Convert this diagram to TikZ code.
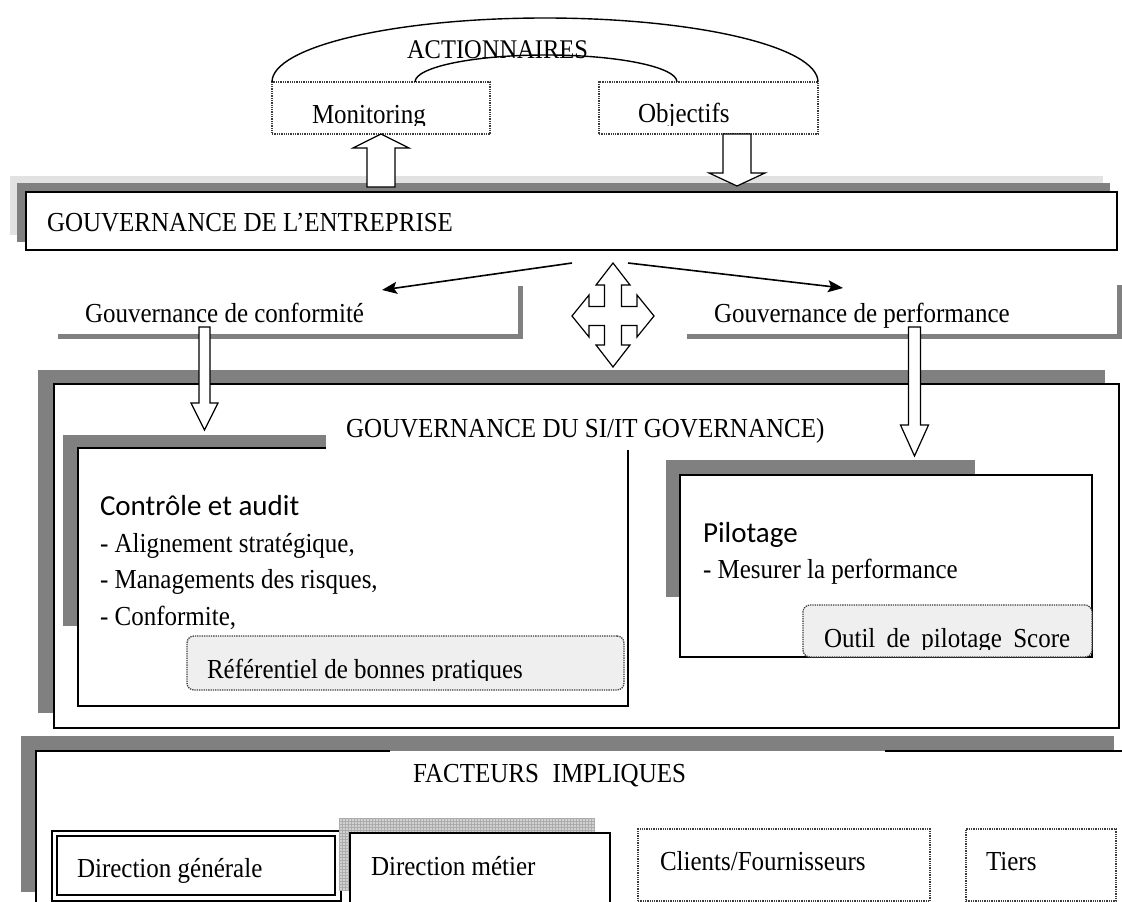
\documentclass[tikz,border=0pt]{standalone}
\usepackage{fontspec}
\setmainfont{Liberation Serif}
\newfontfamily\headfont{Carlito}
\usetikzlibrary{arrows.meta,patterns}

\definecolor{shadowgray}{RGB}{128,128,128}
\definecolor{palegray}{RGB}{226,226,226}
\definecolor{notefill}{RGB}{239,239,239}
\definecolor{dotgray}{RGB}{60,60,60}

% serif labels are set slightly taller than their natural shape
\newcommand{\tall}[1]{\scalebox{1}[1.1]{#1}}

\begin{document}
\begin{tikzpicture}[x=1pt,y=-1pt,
  txt/.style={inner sep=0pt, outer sep=0pt, anchor=base west, font=\fontsize{25}{30}\selectfont},
  headtxt/.style={inner sep=0pt, outer sep=0pt, anchor=base west, font=\headfont\fontsize{29}{34}\selectfont},
  panel/.style={draw=black, line width=1.5pt, fill=white, anchor=north west, inner sep=0pt, outer sep=0pt},
  dotpanel/.style={draw=dotgray, densely dotted, line width=1.3pt, anchor=north west, inner sep=0pt, outer sep=0pt},
  notepanel/.style={dotpanel, fill=notefill, rounded corners=7pt},
  blockarrow/.style={draw=black, line width=1.2pt, fill=white, line join=miter},
  thinarrow/.style={line width=1.6pt, -{Stealth[length=15pt,width=12pt,inset=3pt]}},
  bracket/.style={draw=shadowgray, line width=5pt},
]
\useasboundingbox (0,0) rectangle (1122,902);

% ---------- shareholders ----------
\node[dotpanel, minimum width=218pt, minimum height=52pt] (mon) at (272,82) {};
\node[dotpanel, minimum width=219pt, minimum height=52pt] (obj) at (599,82) {};
\draw[line width=1.4pt] (mon.north west) arc[start angle=180, end angle=360, x radius=273, y radius=64];
\coordinate (innerL) at (415,82);
\draw[line width=1.4pt] (innerL) arc[start angle=180, end angle=360, x radius=131, y radius=27];
\node[txt, font=\fontsize{24.5}{28}\selectfont] (act) at (407,58) {\tall{ACTIONNAIRES}};
\begin{scope}
  \clip (272,82) rectangle (818,125);
  \node[txt] (monT) at (312,123) {\tall{Monitoring}};
  \node[txt] (objT) at (638,122) {\tall{Objectifs}};
\end{scope}

% ---------- corporate governance ----------
\fill[palegray] (10,176) rectangle (1103,235);
\fill[shadowgray] (17,183) rectangle (1110,242);
\node[panel, minimum width=1091pt, minimum height=58pt] (ent) at (26,192) {};
\node[txt] (entT) at (47,231) {\tall{GOUVERNANCE DE L’ENTREPRISE}};

% block arrows between shareholders and the corporate bar
\draw[blockarrow] (367,187) -- (367,148) -- (353,148) -- (381,134) -- (409,148) -- (395,148) -- (395,187) -- cycle;
\draw[blockarrow] (723,134) -- (723,173) -- (709,173) -- (737,186) -- (765,173) -- (751,173) -- (751,134) -- cycle;

% ---------- two kinds of governance ----------
\node[txt] (conf) at (85,322) {\tall{Gouvernance de conformité}};
\node[txt] (perf) at (714,322) {\tall{Gouvernance de performance}};
\draw[bracket] (58,336.5) -- (520,336.5) -- (520,286);
\draw[bracket] (687,336.5) -- (1119,336.5) -- (1119,285);

\coordinate (splitL) at (572,263);
\coordinate (splitR) at (628,263);
\coordinate (confTip) at (382,290);
\coordinate (perfTip) at (843,288);
\draw[thinarrow] (splitL) -- (confTip);
\draw[thinarrow] (splitR) -- (perfTip);

% four-way block arrow
\draw[blockarrow] (613,263) -- (630,285) -- (621.5,285) -- (621.5,306.5) -- (637,306.5) -- (637,295)
  -- (654,316) -- (637,337) -- (637,325.5) -- (621.5,325.5) -- (621.5,345) -- (630,345)
  -- (613,367) -- (596,345) -- (604.5,345) -- (604.5,325.5) -- (589,325.5) -- (589,337)
  -- (572,316) -- (589,295) -- (589,306.5) -- (604.5,306.5) -- (604.5,285) -- (596,285) -- cycle;

% ---------- IT governance ----------
\fill[shadowgray] (38,370) rectangle (1105,713);
\node[panel, minimum width=1065pt, minimum height=344pt] (si) at (54,384) {};

\fill[shadowgray] (63,435) rectangle (600,626);
\node[panel, minimum width=550pt, minimum height=258pt] (ctl) at (78,448) {};
\fill[white] (326,405) rectangle (845,449.6);
\node[txt] (siT) at (346,437) {\tall{GOUVERNANCE DU SI/IT GOVERNANCE)}};

\node[headtxt] (ctlT) at (100,515) {Contrôle et audit};
\node[txt] (ctl1) at (100,552) {\tall{- Alignement stratégique,}};
\node[txt] (ctl2) at (100,588) {\tall{- Managements des risques,}};
\node[txt] (ctl3) at (100,625) {\tall{- Conformite,}};
\node[notepanel, minimum width=437pt, minimum height=54pt] (ref) at (187,636) {};
\begin{scope}
  \clip (187,636) rectangle (624,680);
  \node[txt] (refT) at (207,678) {\tall{Référentiel de bonnes pratiques}};
\end{scope}

\fill[shadowgray] (666,460) rectangle (975,597);
\node[panel, minimum width=412pt, minimum height=182pt] (pil) at (680,475) {};
\node[headtxt] (pilT) at (703,542) {Pilotage};
\node[txt] (pil1) at (703,578) {\tall{- Mesurer la performance}};
\node[notepanel, minimum width=289pt, minimum height=52pt] (tool) at (803,605) {};
\begin{scope}
  \clip (803,605) rectangle (1092,649);
  \node[txt] (toolT) at (824,647) {\tall{Outil\hspace{0.45em}de\hspace{0.45em}pilotage\hspace{0.45em}Score}};
\end{scope}

% arrows from the two governance kinds into the IT governance blocks
\draw[blockarrow] (199,327) -- (199,403) -- (191,403) -- (204.5,430) -- (218,403) -- (210,403) -- (210,327) -- cycle;
\draw[blockarrow] (908.5,327) -- (908.5,425) -- (900.5,425) -- (914.5,456) -- (928.5,425) -- (920.5,425) -- (920.5,327) -- cycle;

% ---------- involved parties ----------
\fill[shadowgray] (21,736) rectangle (1114,892);
\fill[white] (36,751) rectangle (1130,910);
\draw[line width=1.5pt] (390,751) -- (36,751) -- (36,905);
\draw[line width=1.5pt] (885,751) -- (1125,751);
\node[txt] (fac) at (413,782) {\tall{FACTEURS\hspace{0.55em}IMPLIQUES}};

\node[panel, minimum width=289pt, minimum height=70pt] (dgOut) at (52,831) {};
\node[panel, minimum width=278pt, minimum height=59pt] (dg) at (57,836) {};
\node[txt] (dgT) at (77,877) {\tall{Direction générale}};

\fill[gray!35] (339,818) rectangle (595,890);
\fill[pattern=grid, pattern color=gray!65] (339,818) rectangle (595,890);
\node[panel, minimum width=260pt, minimum height=82pt] (dm) at (350,833) {};
\node[txt] (dmT) at (371,875) {\tall{Direction métier}};

\node[dotpanel, minimum width=292pt, minimum height=72pt] (cf) at (638,829) {};
\node[txt] (cfT) at (660,870) {\tall{Clients/Fournisseurs}};
\node[dotpanel, minimum width=150pt, minimum height=72pt] (ti) at (966,829) {};
\node[txt] (tiT) at (986,870) {\tall{Tiers}};
\end{tikzpicture}
\end{document}
